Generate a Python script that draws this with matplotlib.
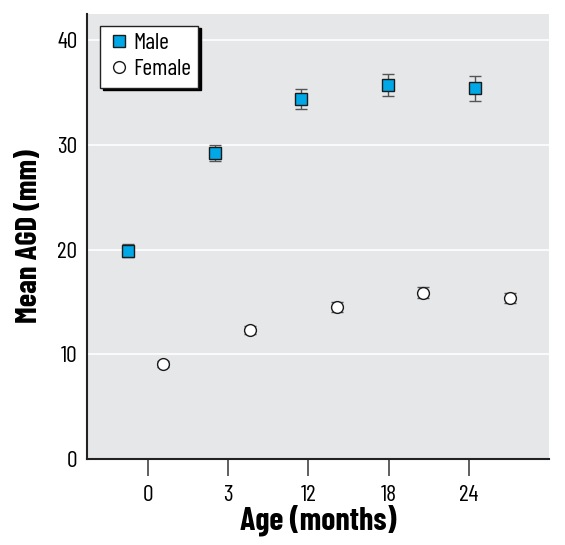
import matplotlib
matplotlib.use("Agg")
import matplotlib.pyplot as plt
from matplotlib.lines import Line2D
import numpy as np

# data
ages = ["0", "3", "12", "18", "24"]
male_mean = [19.9, 29.2, 34.4, 35.7, 35.4]
male_err = [0.6, 0.75, 0.95, 1.05, 1.2]
female_mean = [9.1, 12.3, 14.5, 15.9, 15.4]
female_err = [0.3, 0.4, 0.5, 0.55, 0.5]

plt.rcParams['font.family'] = ['Barlow Condensed', 'Liberation Sans', 'DejaVu Sans']

fig = plt.figure(figsize=(5.65, 5.45), dpi=100)
ax = fig.add_axes([0.154, 0.158, 0.818, 0.816])
ax.set_facecolor('#e6e7e8')

# points are spread a bit wider than the tick positions
idx = np.arange(len(ages))
male_x = -0.25 + idx * 1.081
female_x = 0.19 + idx * 1.081

male_style = dict(marker='s', ms=8.5, mfc='#00a8e8', mec='#1a1a1a', mew=1.0)
female_style = dict(marker='o', ms=8.5, mfc='white', mec='#1a1a1a', mew=1.0)

ax.errorbar(male_x, male_mean, yerr=male_err, ls='none', ecolor='#555555',
            elinewidth=1.0, capsize=4, capthick=1.0, zorder=3, **male_style)
ax.errorbar(female_x, female_mean, yerr=female_err, ls='none', ecolor='#555555',
            elinewidth=1.0, capsize=4, capthick=1.0, zorder=3, **female_style)

ax.set_xlim(-0.76, 5.0)
ax.set_ylim(0, 42.5)
ax.set_xticks(idx)
ax.set_xticklabels(ages)
ax.set_yticks([0, 10, 20, 30, 40])
ax.yaxis.grid(True, color='white', linewidth=1.2)
ax.set_axisbelow(True)

for s in ['top', 'right']:
    ax.spines[s].set_visible(False)
for s in ['left', 'bottom']:
    ax.spines[s].set_linewidth(1.5)
    ax.spines[s].set_color('#222222')

ax.tick_params(axis='y', length=0, labelsize=17, pad=7)
ax.tick_params(axis='x', length=12, width=1.2, color='#444444', labelsize=17, pad=7)

ax.set_xlabel('Age (months)', fontsize=23, fontweight='bold', labelpad=-1)
ax.set_ylabel('Mean AGD (mm)', fontsize=22, fontweight='bold', labelpad=10)

handles = [Line2D([], [], ls='none', **male_style),
           Line2D([], [], ls='none', **female_style)]
leg = ax.legend(handles, ['Male', 'Female'], loc='upper left',
                bbox_to_anchor=(0.018, 0.985), frameon=True, fancybox=False,
                shadow={'color': 'black', 'alpha': 1.0, 'ox': 2, 'oy': -2},
                fontsize=17, handletextpad=0.1, handlelength=1.0,
                borderpad=0.3, labelspacing=0.2, borderaxespad=0.2)
leg.get_frame().set_edgecolor('#222222')
leg.get_frame().set_linewidth(1.0)

fig.savefig('out.png', dpi=100)
